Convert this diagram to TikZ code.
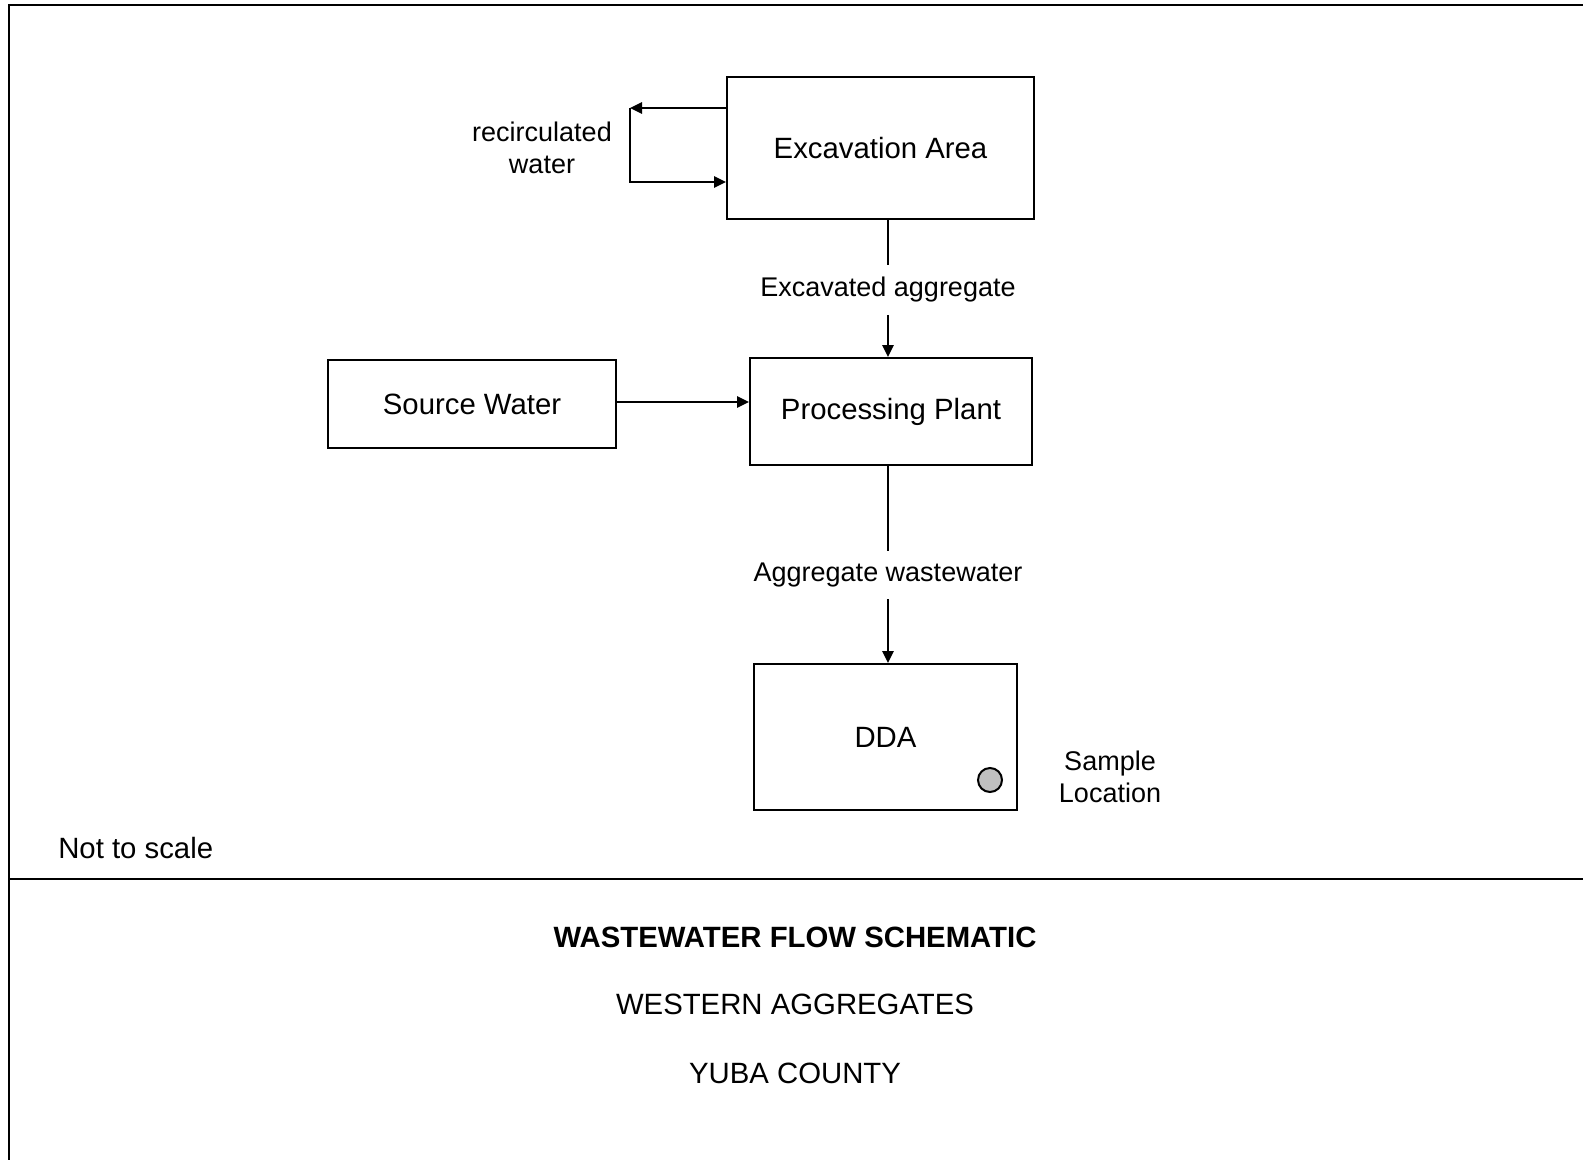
\documentclass[tikz,border=0pt]{standalone}
\usepackage{fontspec}
\setmainfont{Liberation Sans}
\usepackage{tikz}
\usetikzlibrary{arrows.meta}

\tikzset{
  flowbox/.style={draw, line width=1.5pt, inner sep=0pt, font=\fontsize{22}{26}\selectfont},
  flowlbl/.style={inner sep=9pt, align=center, font=\fontsize{20.25}{23.5}\selectfont},
  flowarr/.style={line width=1.5pt, -{Triangle[length=9pt,width=8.5pt]}},
  flowline/.style={line width=1.5pt},
  titletxt/.style={font=\fontsize{22}{26}\selectfont}
}

\begin{document}
\begin{tikzpicture}[x=0.75pt,y=0.75pt,yscale=-1,xscale=1]
\useasboundingbox (0,0) rectangle (1583,1160);

%Frame
\draw [line width=2pt]  (1583,5) -- (9,5) -- (9,1160) ;
\draw [line width=2pt]  (9,879) -- (1583,879) ;

%Shape: Rectangle [Excavation Area]
\node [flowbox, minimum width=230.25pt, minimum height=106.5pt] (exc) at (880.5,148) {Excavation Area};
%Shape: Rectangle [Processing Plant]
\node [flowbox, minimum width=211.5pt, minimum height=80.25pt] (proc) at (891,411.5) {Processing Plant};
%Shape: Rectangle [Source Water]
\node [flowbox, minimum width=216pt, minimum height=66pt] (src) at (472,404) {Source Water};
%Shape: Rectangle [DDA]
\node [flowbox, minimum width=197.25pt, minimum height=109.5pt] (dda) at (885.5,737) {DDA};
%Shape: Circle [sample point]
\node [draw, circle, line width=1.5pt, fill=black!25, minimum size=18pt, inner sep=0pt] (smp) at (990,780) {};

% Text Node
\node [flowlbl] (recw) at (542,148) {recirculated\\water};
% Text Node
\node [flowlbl] (lblexc) at (888,290) {Excavated aggregate};
% Text Node
\node [flowlbl] (lblww) at (888,575) {Aggregate wastewater};
% Text Node
\node [flowlbl] (smplbl) at (1110,777) {Sample\\Location};
% Text Node
\node [titletxt, anchor=west, inner sep=0pt] (nts) at (58,848) {Not to scale};

%Straight Lines [recirculation loop]
\coordinate (loopc) at (630,108);
\draw [flowarr]  ([yshift=-30pt]exc.west) -- (loopc) ;
\draw [flowarr]  (loopc) |- ([yshift=25.5pt]exc.west) ;
%Straight Lines [excavation to plant]
\draw [flowline]  (exc.south -| lblexc) -- (lblexc) ;
\draw [flowarr]  (lblexc) -- (proc.north -| lblexc) ;
%Straight Lines [source water to plant]
\draw [flowarr]  ([yshift=-1.5pt]src.east) -- ([yshift=-1.5pt]src.east -| proc.west) ;
%Straight Lines [plant to DDA]
\draw [flowline]  (proc.south -| lblww) -- (lblww) ;
\draw [flowarr]  (lblww) -- (dda.north -| lblww) ;

% Title block
\node [titletxt, font=\fontsize{22}{26}\selectfont\bfseries] (ttl) at (795,937) {WASTEWATER FLOW SCHEMATIC};
\node [titletxt] (site) at (795,1004) {WESTERN AGGREGATES};
\node [titletxt] (cnty) at (795,1073) {YUBA COUNTY};

\end{tikzpicture}
\end{document}
